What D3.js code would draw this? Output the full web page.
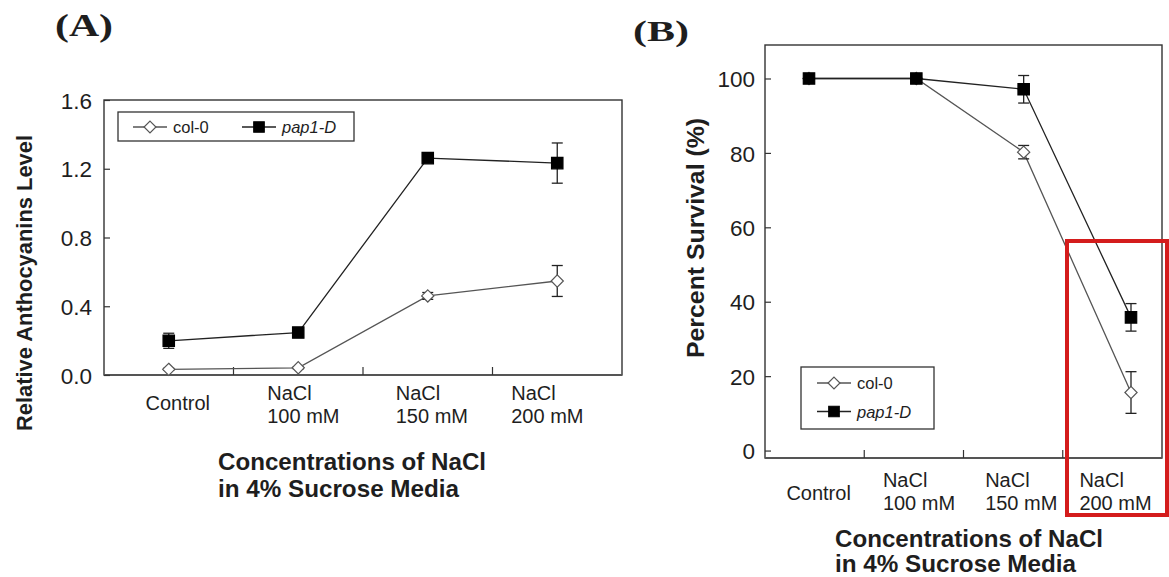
<!DOCTYPE html>
<html>
<head>
<meta charset="utf-8">
<script src="https://cdn.jsdelivr.net/npm/d3@7"></script>
<style>
  html, body { margin: 0; padding: 0; background: #fff; }
  svg { display: block; }
  text { font-family: "Liberation Sans", Arial, sans-serif; fill: #1e1e1e; }
</style>
</head>
<body>
<svg id="chart" width="1169" height="577"></svg>
<script>
// ---------------- data ----------------
const categories = ["Control", "NaCl 100 mM", "NaCl 150 mM", "NaCl 200 mM"];
const catLine1 = ["Control", "NaCl", "NaCl", "NaCl"];
const catLine2 = ["", "100 mM", "150 mM", "200 mM"];
const seriesNames = ["col-0", "pap1-D"];

// (A) Relative anthocyanins level
const anthoCol0 = [0.033, 0.042, 0.46, 0.547];
const anthoCol0Err = [0.006, 0.006, 0.02, 0.09];
const anthoPap = [0.199, 0.247, 1.262, 1.233];
const anthoPapErr = [0.044, 0.01, 0.012, 0.117];
const yTicksA = [0.0, 0.4, 0.8, 1.2, 1.6];

// (B) Percent survival
const survCol0 = [100, 100, 80.2, 15.6];
const survCol0Err = [0, 0, 1.8, 5.6];
const survPap = [100, 100, 97.1, 35.8];
const survPapErr = [0, 0, 3.7, 3.7];
const yTicksB = [0, 20, 40, 60, 80, 100];

const xTitle1 = "Concentrations of NaCl";
const xTitle2 = "in 4% Sucrose Media";
const yTitleA = "Relative Anthocyanins Level";
const yTitleB = "Percent Survival (%)";

// ---------------- drawing ----------------
const svg = d3.select("#chart");
const LINE = "#333";
const GREY = "#555";

function panel(opt) {
  const g = svg.append("g");
  const xBand = d3.scaleBand().domain(categories).range([opt.left, opt.right]).padding(0);
  const xPt = opt.pointRange
    ? d3.scalePoint().domain(categories).range(opt.pointRange)
    : (c => xBand(c) + xBand.bandwidth() / 2);
  const y = d3.scaleLinear().domain(opt.yDomain).range([opt.bottom, opt.top]);

  // frame
  g.append("rect")
    .attr("x", opt.left).attr("y", opt.top)
    .attr("width", opt.right - opt.left).attr("height", opt.bottom - opt.top)
    .attr("fill", "none").attr("stroke", LINE).attr("stroke-width", 1.4);
  g.append("line")
    .attr("x1", opt.left).attr("x2", opt.right)
    .attr("y1", opt.bottom).attr("y2", opt.bottom)
    .attr("stroke", GREY).attr("stroke-width", 2);

  // y axis
  const ya = d3.axisLeft(y).tickValues(opt.yTicks).tickFormat(opt.yFormat)
    .tickSizeInner(-6).tickSizeOuter(0).tickPadding(opt.yPad);
  const yg = g.append("g").attr("transform", `translate(${opt.left},0)`).call(ya);
  yg.select(".domain").remove();
  yg.selectAll(".tick line").attr("stroke", LINE).attr("stroke-width", 1.2);
  yg.selectAll(".tick text")
    .attr("font-family", "'Liberation Sans', Arial, sans-serif")
    .attr("font-size", 22.5).attr("fill", "#1e1e1e")
    .attr("dy", "0.36em");

  // x ticks at band boundaries (inward)
  g.selectAll(".xtick").data(categories.slice(1)).enter().append("line")
    .attr("x1", c => xBand(c)).attr("x2", c => xBand(c))
    .attr("y1", opt.bottom).attr("y2", opt.bottom - 8)
    .attr("stroke", LINE).attr("stroke-width", 1.2);

  // x category labels
  categories.forEach((c, i) => {
    const cx = xBand(c) + xBand.bandwidth() / 2 + opt.labelNudge[i];
    if (catLine2[i] === "") {
      g.append("text").attr("x", cx).attr("y", opt.ctrlBase)
        .attr("text-anchor", "middle").attr("font-size", 20).text(catLine1[i]);
    } else {
      const t = g.append("text").attr("font-size", 20);
      t.append("tspan").attr("x", cx - 35).attr("y", opt.line1Base).text(catLine1[i]);
      t.append("tspan").attr("x", cx - 35).attr("y", opt.line1Base + 23).text(catLine2[i]);
    }
  });

  // x title
  g.append("text").attr("x", opt.xTitleX).attr("y", opt.xTitleBase)
    .attr("font-weight", "bold").attr("font-size", 24)
    .attr("textLength", 268).attr("lengthAdjust", "spacingAndGlyphs").text(xTitle1);
  g.append("text").attr("x", opt.xTitleX).attr("y", opt.xTitleBase + opt.xTitleGap)
    .attr("font-weight", "bold").attr("font-size", 24)
    .attr("textLength", 241).attr("lengthAdjust", "spacingAndGlyphs").text(xTitle2);

  // y title
  g.append("text")
    .attr("transform", `translate(${opt.yTitleX},${opt.yTitleY}) rotate(-90)`)
    .attr("text-anchor", "middle").attr("font-weight", "bold").attr("font-size", opt.yTitleSize)
    .attr("textLength", opt.yTitleLen).attr("lengthAdjust", "spacingAndGlyphs")
    .text(opt.yTitle);

  // series
  const series = [
    { name: seriesNames[0], v: opt.col0, e: opt.col0Err, filled: false, color: GREY },
    { name: seriesNames[1], v: opt.pap, e: opt.papErr, filled: true, color: "#222" }
  ];
  series.forEach(s => {
    const pts = categories.map((c, i) => ({ x: xPt(c), v: s.v[i], e: s.e[i] }));
    g.append("path").datum(pts)
      .attr("d", d3.line().x(d => d.x).y(d => y(d.v)))
      .attr("fill", "none").attr("stroke", s.color).attr("stroke-width", 1.3);
    const eb = g.selectAll(null).data(pts.filter(d => d.e > 0)).enter().append("g")
      .attr("stroke", "#222").attr("stroke-width", 1.3);
    eb.append("line").attr("x1", d => d.x).attr("x2", d => d.x)
      .attr("y1", d => y(d.v + d.e)).attr("y2", d => y(d.v - d.e));
    eb.append("line").attr("x1", d => d.x - 5.5).attr("x2", d => d.x + 5.5)
      .attr("y1", d => y(d.v + d.e)).attr("y2", d => y(d.v + d.e));
    eb.append("line").attr("x1", d => d.x - 5.5).attr("x2", d => d.x + 5.5)
      .attr("y1", d => y(d.v - d.e)).attr("y2", d => y(d.v - d.e));
    const sym = d3.symbol().type(s.filled ? d3.symbolSquare : d3.symbolDiamond2).size(s.filled ? 130 : 95);
    g.selectAll(null).data(pts).enter().append("path")
      .attr("d", sym)
      .attr("transform", d => `translate(${d.x},${y(d.v)})`)
      .attr("fill", s.filled ? "#000" : "#fff")
      .attr("stroke", s.filled ? "#000" : GREY).attr("stroke-width", 1.2);
  });

  // legend
  const lg = g.append("g");
  lg.append("rect").attr("x", opt.legend.x).attr("y", opt.legend.y)
    .attr("width", opt.legend.w).attr("height", opt.legend.h)
    .attr("fill", "#fff").attr("stroke", LINE).attr("stroke-width", 1.3);
  series.forEach((s, i) => {
    const p = opt.legend.items[i];
    lg.append("line").attr("x1", p.x - 17).attr("x2", p.x + 17).attr("y1", p.y).attr("y2", p.y)
      .attr("stroke", s.color).attr("stroke-width", 1.3);
    const sym = d3.symbol().type(s.filled ? d3.symbolSquare : d3.symbolDiamond2).size(s.filled ? 110 : 90);
    lg.append("path").attr("d", sym).attr("transform", `translate(${p.x},${p.y})`)
      .attr("fill", s.filled ? "#000" : "#fff").attr("stroke", s.filled ? "#000" : GREY).attr("stroke-width", 1.2);
    lg.append("text").attr("x", p.x + 23).attr("y", p.y + 6)
      .attr("font-size", 16.5).attr("font-style", s.filled ? "italic" : "normal").text(s.name);
  });
  return { xBand, y };
}

// Panel A
panel({
  left: 104, right: 622, top: 100, bottom: 375,
  yDomain: [0, 1.6], yTicks: yTicksA, yFormat: d3.format(".1f"), yPad: 12,
  labelNudge: [9, 4, 3, -11],
  ctrlBase: 410, line1Base: 399.5,
  xTitleX: 218, xTitleBase: 470, xTitleGap: 26.5,
  yTitle: yTitleA, yTitleX: 32, yTitleY: 283, yTitleSize: 22.5, yTitleLen: 296,
  col0: anthoCol0, col0Err: anthoCol0Err, pap: anthoPap, papErr: anthoPapErr,
  legend: { x: 118, y: 112, w: 236, h: 29,
    items: [{ x: 150, y: 127 }, { x: 259, y: 127 }] }
});

// Panel B
panel({
  left: 765, right: 1162, top: 45, bottom: 458,
  yDomain: [-2, 109], yTicks: yTicksB, yFormat: d3.format("d"), yPad: 10,
  pointRange: [809, 1131],
  labelNudge: [4, 4, 7, 2],
  ctrlBase: 500, line1Base: 487,
  xTitleX: 835, xTitleBase: 547, xTitleGap: 25,
  yTitle: yTitleB, yTitleX: 704, yTitleY: 238, yTitleSize: 23, yTitleLen: 240,
  col0: survCol0, col0Err: survCol0Err, pap: survPap, papErr: survPapErr,
  legend: { x: 801, y: 367, w: 133, h: 62,
    items: [{ x: 834, y: 383 }, { x: 834, y: 411.5 }] }
});

// panel letters
svg.append("text").attr("x", 55).attr("y", 36)
  .style("font-family", "'Liberation Serif', 'Times New Roman', serif")
  .attr("font-weight", "bold").attr("font-size", 31)
  .attr("textLength", 58).attr("lengthAdjust", "spacingAndGlyphs").text("(A)");
svg.append("text").attr("x", 633).attr("y", 41)
  .style("font-family", "'Liberation Serif', 'Times New Roman', serif")
  .attr("font-weight", "bold").attr("font-size", 29)
  .attr("textLength", 56).attr("lengthAdjust", "spacingAndGlyphs").text("(B)");

// red highlight box around the 200 mM column of panel B
svg.append("rect")
  .attr("x", 1067).attr("y", 241).attr("width", 100).attr("height", 274)
  .attr("fill", "none").attr("stroke", "#d41c1c").attr("stroke-width", 4);
</script>
</body>
</html>
